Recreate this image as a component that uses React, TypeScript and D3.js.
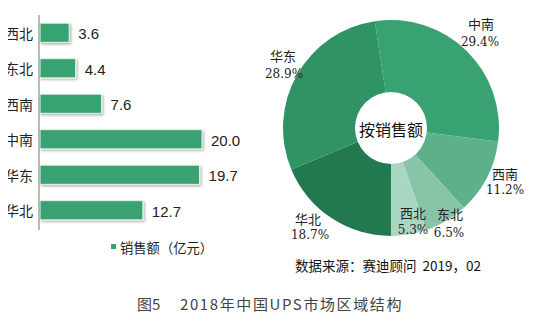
import React from "react";
import * as d3 from "d3";

const barCategories = ["西北", "东北", "西南", "中南", "华东", "华北"];
const barValues = [3.6, 4.4, 7.6, 20.0, 19.7, 12.7];
const barValueLabels = ["3.6", "4.4", "7.6", "20.0", "19.7", "12.7"];

const pieCategories = ["中南", "西南", "东北", "西北", "华北", "华东"];
const pieValues = [29.4, 11.2, 6.5, 5.3, 18.7, 28.9];
const pieLabels = ["29.4%", "11.2%", "6.5%", "5.3%", "18.7%", "28.9%"];
const pieColors = ["#38a273", "#5cb08a", "#88c4a7", "#a9d6c0", "#23794f", "#2f9364"];

const legendLabel = "销售额（亿元）";
const centerLabel = "按销售额";
const sourceText = "数据来源：赛迪顾问  2019，02";
const titlePrefix = "图5";
const titleText = "2018年中国UPS市场区域结构";

const W = 544;
const H = 323;
const CJK = "'Noto Sans CJK SC', sans-serif";
const LAT = "'Liberation Sans', Arial, sans-serif";

// label positions in pie: [name center, pct center]
const pieLabelPos: [number, number, number, number][] = [
  [481, 23, 480, 42],
  [505, 173, 505, 190],
  [450, 213, 449, 233],
  [413, 212, 413, 230],
  [308, 218, 310, 235],
  [283, 55, 284, 74],
];

export default function App() {
  const y = d3
    .scaleBand<string>()
    .domain(barCategories)
    .range([15, 228])
    .paddingInner(0.46)
    .paddingOuter(0.23);
  const x = d3.scaleLinear().domain([0, 22]).range([40, 40 + 22 * 8.1]);

  const cx = 391;
  const cy = 128;
  const outerR = 108;
  const innerR = 36;
  const startA = (-8.6 * Math.PI) / 180;
  const pie = d3
    .pie<number>()
    .sort(null)
    .value((d) => d)
    .startAngle(startA)
    .endAngle(startA + Math.PI * 2);
  const arcs = pie(pieValues);
  const arc = d3.arc<d3.PieArcDatum<number>>().innerRadius(0).outerRadius(outerR);

  return (
    <div style={{ margin: -8 }}>
      <svg width={W} height={H} style={{ display: "block", background: "#fff" }}>
        <defs>
          <filter id="sh" x="-10%" y="-20%" width="130%" height="160%">
            <feDropShadow dx="1.5" dy="1.5" stdDeviation="0.8" floodColor="#000" floodOpacity="0.3" />
          </filter>
        </defs>
        {/* bars */}
        {barCategories.map((c, i) => (
          <g key={c}>
            <rect
              x={x(0)}
              y={y(c)!}
              width={x(barValues[i]) - x(0)}
              height={y.bandwidth()}
              fill="#37a272"
              stroke="#e8f4ee"
              strokeWidth={1}
              filter="url(#sh)"
            />
            <text
              x={33}
              y={y(c)! + y.bandwidth() / 2}
              textAnchor="end"
              dominantBaseline="central"
              fontFamily={CJK}
              fontSize={14}
              fill="#222"
            >
              {c}
            </text>
            <text
              x={x(barValues[i]) + 9}
              y={y(c)! + y.bandwidth() / 2 + 1}
              dominantBaseline="central"
              fontFamily={LAT}
              fontSize={15}
              fill="#222"
            >
              {barValueLabels[i]}
            </text>
          </g>
        ))}
        <line x1={39} x2={39} y1={15} y2={230} stroke="#777" strokeWidth={1} />
        {/* legend */}
        <rect x={111} y={244} width={5} height={5} fill="#37a272" />
        <text x={120} y={247} dominantBaseline="central" fontFamily={CJK} fontSize={13.3} fill="#222">
          {legendLabel}
        </text>
        {/* pie */}
        <g transform={`translate(${cx},${cy})`}>
          {arcs.map((a, i) => (
            <path key={i} d={arc(a) || ""} fill={pieColors[i]} />
          ))}
          <circle r={innerR} fill="#fff" />
          <text
            textAnchor="middle"
            dominantBaseline="central"
            y={1}
            fontFamily={CJK}
            fontSize={16}
            fill="#111"
          >
            {centerLabel}
          </text>
        </g>
        {pieCategories.map((c, i) => {
          const p = pieLabelPos[i];
          return (
            <g key={c} fontFamily={CJK} fontSize={13} fill="#222" textAnchor="middle">
              <text x={p[0]} y={p[1]} dominantBaseline="central">
                {c}
              </text>
              <text x={p[2]} y={p[3]} dominantBaseline="central" fontFamily="'DejaVu Serif', serif" fontSize={12}>
                {pieLabels[i]}
              </text>
            </g>
          );
        })}
        <text
          x={295}
          y={265}
          dominantBaseline="central"
          fontFamily={CJK}
          fontSize={13.5}
          fill="#111"
          style={{ whiteSpace: "pre" }}
        >
          {sourceText}
        </text>
        <text x={137} y={303} dominantBaseline="central" fontFamily={CJK} fontSize={15} fill="#444">
          {titlePrefix}
        </text>
        <text
          x={180}
          y={303}
          dominantBaseline="central"
          fontFamily={CJK}
          fontSize={15}
          letterSpacing={1.6}
          fill="#444"
        >
          {titleText}
        </text>
      </svg>
    </div>
  );
}
